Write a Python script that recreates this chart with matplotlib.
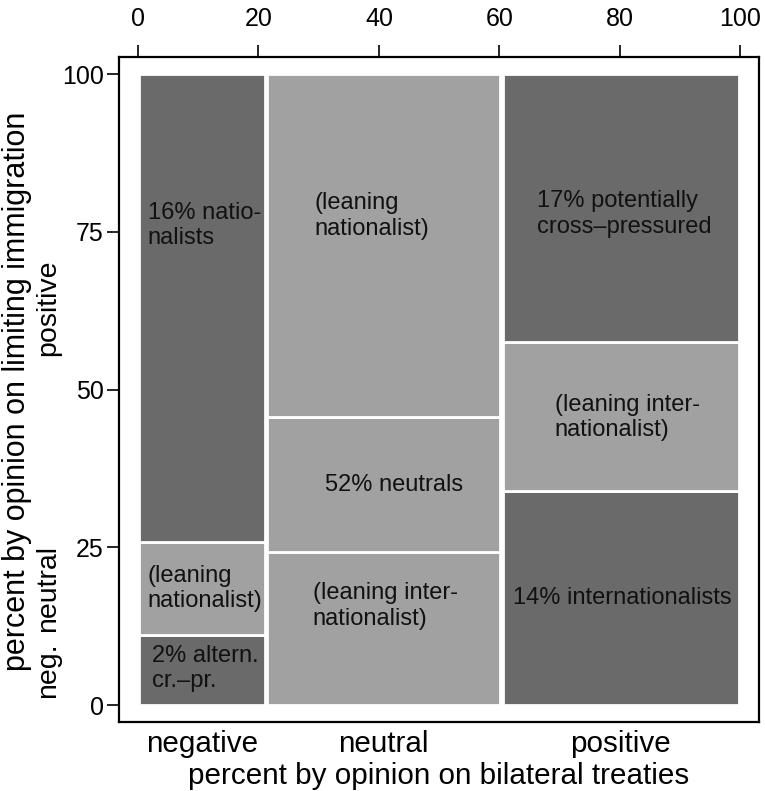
import matplotlib
matplotlib.use("Agg")
import matplotlib.pyplot as plt
import matplotlib.transforms as mtransforms

plt.rcParams['font.family'] = ['Liberation Sans', 'DejaVu Sans']

# ---- data ----
treaty_cats = ["negative", "neutral", "positive"]
treaty_share = [21.2, 39.15, 39.65]          # column widths (percent)
immig_cats = ["neg.", "neutral", "positive"]
# within-column shares (percent) for immigration: neg., neutral, positive
share_neg_col = [11.1, 14.8, 74.1]
share_neu_col = [24.2, 21.5, 54.3]
share_pos_col = [33.9, 23.6, 42.5]
col_shares = [share_neg_col, share_neu_col, share_pos_col]

# cell shading: True = dark
dark_cells = [[True, False, True],
              [False, False, False],
              [True, False, True]]

cell_labels = ["16% natio-\nnalists", "(leaning\nnationalist)", "2% altern.\ncr.\u2013pr.",
               "(leaning\nnationalist)", "52% neutrals", "(leaning inter-\nnationalist)",
               "17% potentially\ncross\u2013pressured", "(leaning inter-\nnationalist)",
               "14% internationalists"]
label_pos = [(1.6, 76.0), (1.6, 18.5), (2.3, 5.8),
             (29.3, 77.5), (31.0, 34.9), (29.0, 15.7),
             (66.2, 77.8), (69.2, 45.6), (62.3, 17.0)]

dark = "#6a6a6a"
light = "#a1a1a1"

fig = plt.figure(figsize=(7.65, 7.91), dpi=100)
ax = fig.add_axes([0.1562, 0.0868, 0.8356, 0.8411])

left = 0.0
for ci, (w, shares) in enumerate(zip(treaty_share, col_shares)):
    bottom = 0.0
    for ri, s in enumerate(shares):
        ax.bar(left + 0.17, s, width=w - 0.34, bottom=bottom, align='edge',
               color=dark if dark_cells[ci][ri] else light,
               edgecolor='white', linewidth=2.0, zorder=2)
        bottom += s
    ax.text(left + w / 2, 0.060, treaty_cats[ci], ha='center', va='center',
            fontsize=21.3, transform=mtransforms.blended_transform_factory(ax.transData, fig.transFigure))
    left += w

for txt, (x, y) in zip(cell_labels, label_pos):
    ax.text(x, y, txt, ha='left', va='center', fontsize=17, color='#111111', zorder=3)

# secondary category labels on the left (positioned by first column)
b = 0.0
ytrans = mtransforms.blended_transform_factory(fig.transFigure, ax.transData)
for name, s in zip(immig_cats, share_neg_col):
    ax.text(0.0625, b + s / 2, name, rotation=90, ha='center', va='center',
            fontsize=20.5, transform=ytrans)
    b += s

ax.set_xlim(-3.07, 103.05)
ax.set_ylim(-2.74, 102.7)
ax.xaxis.tick_top()
ax.set_xticks([0, 20, 40, 60, 80, 100])
ax.set_yticks([0, 25, 50, 75, 100])
ax.tick_params(axis='x', labelsize=18, length=8.5, width=1.2, pad=10, direction='out')
ax.tick_params(axis='y', labelsize=18, length=8.5, width=1.2, pad=3, direction='out')
for sp in ax.spines.values():
    sp.set_linewidth(1.6)

fig.text(0.574, 0.019, "percent by opinion on bilateral treaties", ha='center', va='center', fontsize=21.3)
fig.text(0.0225, 0.505, "percent by opinion on limiting immigration", rotation=90,
         ha='center', va='center', fontsize=22)

fig.savefig("out.png", dpi=100)
